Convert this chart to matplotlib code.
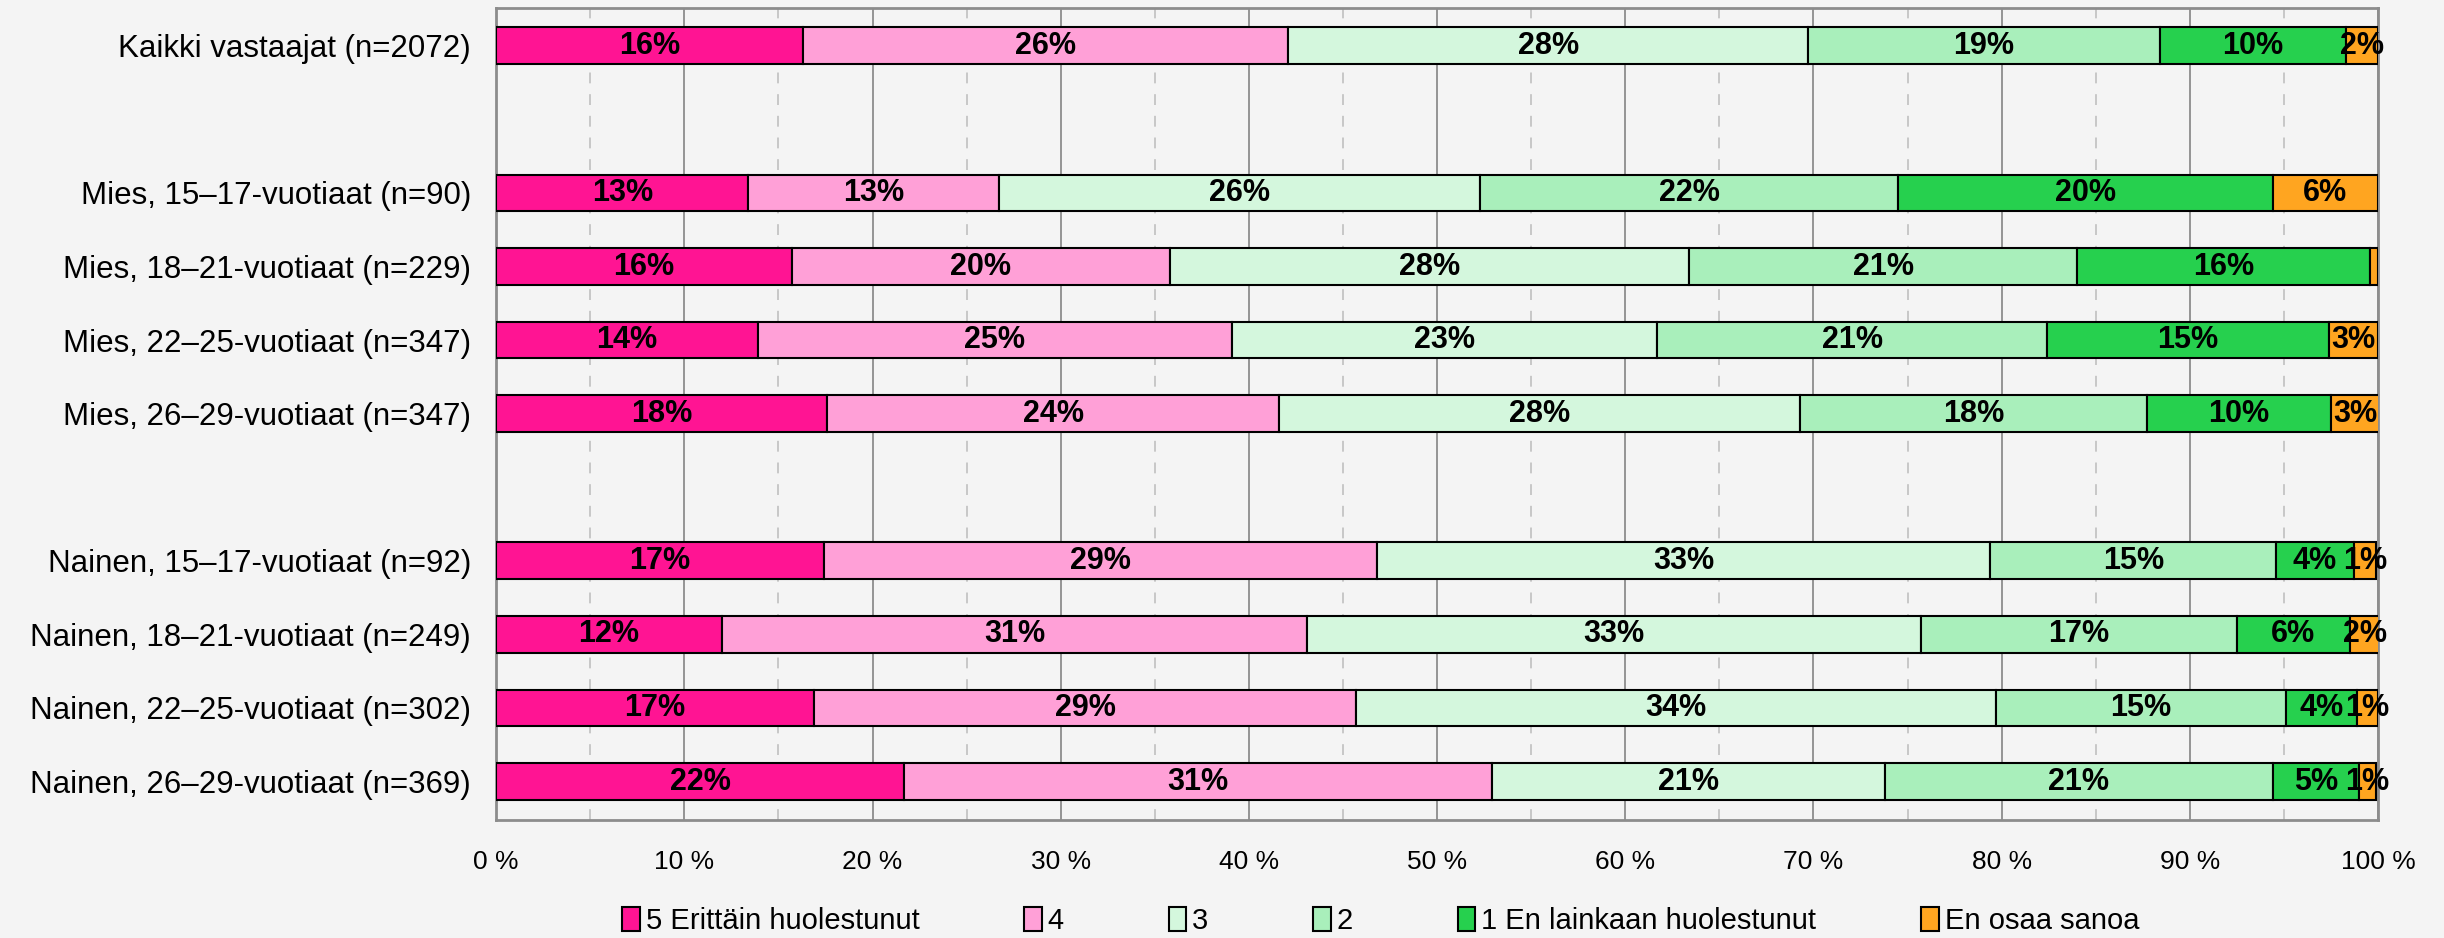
import matplotlib.pyplot as plt
import numpy as np
from matplotlib.ticker import MultipleLocator, FuncFormatter

plt.rcParams["font.family"] = ["Liberation Sans", "DejaVu Sans"]

groups = [
    "Kaikki vastaajat (n=2072)",
    "Mies, 15–17-vuotiaat (n=90)",
    "Mies, 18–21-vuotiaat (n=229)",
    "Mies, 22–25-vuotiaat (n=347)",
    "Mies, 26–29-vuotiaat (n=347)",
    "Nainen, 15–17-vuotiaat (n=92)",
    "Nainen, 18–21-vuotiaat (n=249)",
    "Nainen, 22–25-vuotiaat (n=302)",
    "Nainen, 26–29-vuotiaat (n=369)",
]
rows = [0, 2, 3, 4, 5, 7, 8, 9, 10]

categories = ["5 Erittäin huolestunut", "4", "3", "2", "1 En lainkaan huolestunut", "En osaa sanoa"]
colors = ["#ff1493", "#ffa0d7", "#d4f7dd", "#a9efbb", "#26d04e", "#ffa520"]

v5 = [16.3, 13.4, 15.7, 13.9, 17.6, 17.4, 12.0, 16.9, 21.7]
v4 = [25.8, 13.3, 20.1, 25.2, 24.0, 29.4, 31.1, 28.8, 31.2]
v3 = [27.6, 25.6, 27.6, 22.6, 27.7, 32.6, 32.6, 34.0, 20.9]
v2 = [18.7, 22.2, 20.6, 20.7, 18.4, 15.2, 16.8, 15.4, 20.6]
v1 = [9.9, 19.9, 15.6, 15.0, 9.8, 4.1, 6.0, 3.8, 4.6]
eos = [1.7, 5.6, 0.4, 2.6, 2.6, 1.2, 1.6, 1.1, 0.9]
series = [v5, v4, v3, v2, v1, eos]

fig, ax = plt.subplots(figsize=(24.44, 9.38), dpi=100)
fig.patch.set_facecolor("#f4f4f4")
ax.set_facecolor("#f4f4f4")
fig.subplots_adjust(left=0.203, right=0.973, top=0.992, bottom=0.126)

left = np.zeros(len(rows))
for name, vals, col in zip(categories, series, colors):
    vals = np.array(vals)
    ax.barh(rows, vals, left=left, height=0.5, color=col, edgecolor="black",
            linewidth=1.5, label=name, zorder=3)
    for y, l, v in zip(rows, left, vals):
        if v >= 0.5:
            ax.text(l + v / 2, y, f"{v:.0f}%", ha="center", va="center",
                    fontsize=22, fontweight="bold", color="black", zorder=4)
    left += vals

ax.set_xlim(0, 100)
ax.set_ylim(10.52, -0.52)
ax.set_yticks(rows)
ax.set_yticklabels(groups, fontsize=22.5)
ax.xaxis.set_major_locator(MultipleLocator(10))
ax.xaxis.set_minor_locator(MultipleLocator(5))
ax.xaxis.set_major_formatter(FuncFormatter(lambda x, p: f"{x:.0f} %"))
ax.tick_params(axis="x", which="both", length=0, labelsize=19, pad=22)
ax.tick_params(axis="y", length=0, pad=18)
ax.grid(axis="x", which="major", color="#8c8c8c", linewidth=1.3, zorder=0)
ax.grid(axis="x", which="minor", color="#c4c4c4", linewidth=1.3, linestyle=(0, (6, 6)), zorder=0)
for s in ax.spines.values():
    s.set_color("#8c8c8c")
    s.set_linewidth(2)

ax.legend(loc="center", bbox_to_anchor=(0.47, -0.125), ncol=6, frameon=False,
          fontsize=21, handlelength=0.6, handleheight=0.9, handletextpad=0.2,
          columnspacing=3.6)

plt.savefig("out.png", facecolor=fig.get_facecolor())
